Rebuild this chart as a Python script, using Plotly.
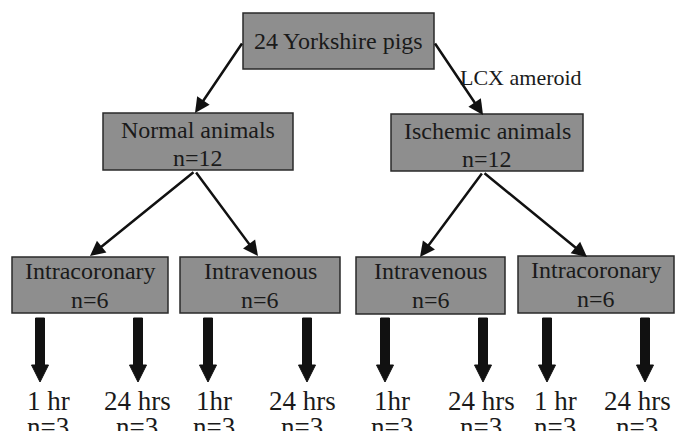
import plotly.graph_objects as go

# ---- content (data) ----
root_label = "24 Yorkshire pigs"
group_labels = ["Normal animals", "Ischemic animals"]
group_n = [12, 12]
route_labels = ["Intracoronary", "Intravenous", "Intravenous", "Intracoronary"]
route_n = [6, 6, 6, 6]
time_labels = ["1 hr", "24 hrs", "1hr", "24 hrs", "1hr", "24 hrs", "1 hr", "24 hrs"]
time_n = [3, 3, 3, 3, 3, 3, 3, 3]
edge_label = "LCX ameroid"

# ---- layout geometry (pixel-like coordinates) ----
W, H = 678, 431
root_box = (243, 434, 13, 69)
group_boxes = [(103, 293, 113, 170), (391, 583, 114, 171)]
route_boxes = [(12, 168, 257, 313), (180, 340, 257, 313),
               (356, 505, 257, 314), (518, 674, 256, 313)]
thick_x = [40, 138, 208, 307, 385, 483, 547, 645]
time_text_x = [48, 137, 214, 302, 392, 481, 555, 637]

FILL = "#8e8e8e"
EDGE = "#2a2a2a"
TXT = "#1a1a1a"
FONT = "Liberation Serif"

fig = go.Figure()
fig.add_trace(go.Scatter(x=[0, W], y=[0, H], mode="markers",
                         marker=dict(opacity=0), hoverinfo="skip", showlegend=False))

shapes = []
annotations = []

def box(b):
    x0, x1, y0, y1 = b
    shapes.append(dict(type="rect", xref="x", yref="y", x0=x0, x1=x1, y0=y0, y1=y1,
                       fillcolor=FILL, line=dict(color=EDGE, width=1.5), layer="above"))

def text(x, y, s, size):
    annotations.append(dict(x=x, y=y, xref="x", yref="y", text=s, showarrow=False,
                            font=dict(family=FONT, size=size, color=TXT),
                            xanchor="center", yanchor="middle"))

def thin_arrow(tail, tip):
    annotations.append(dict(x=tip[0], y=tip[1], ax=tail[0], ay=tail[1],
                            xref="x", yref="y", axref="x", ayref="y", text="",
                            showarrow=True, arrowhead=2, arrowsize=1.2, arrowwidth=2.5,
                            arrowcolor="#111111", standoff=0, startstandoff=0))

# boxes
box(root_box)
for b in group_boxes:
    box(b)
for b in route_boxes:
    box(b)

# box texts
text((root_box[0] + root_box[1]) / 2, 41, root_label, 24)
for b, lab, n in zip(group_boxes, group_labels, group_n):
    cx = (b[0] + b[1]) / 2
    text(cx, b[2] + 17, lab, 24)
    text(cx, b[2] + 45, "n=%d" % n, 24)
for b, lab, n in zip(route_boxes, route_labels, route_n):
    cx = (b[0] + b[1]) / 2
    text(cx, b[2] + 14, lab, 24)
    text(cx, b[2] + 43, "n=%d" % n, 24)

# thin arrows
thin_arrow((243, 42), (195, 113))
thin_arrow((434, 42), (483, 115))
thin_arrow((195, 171), (90, 256))
thin_arrow((195, 171), (258, 256))
thin_arrow((483, 172), (420, 257))
thin_arrow((483, 172), (587, 257))

text(521, 77, edge_label, 22)

# thick arrows
for cx in thick_x:
    y0, yh, yt = 318, 365, 382
    sw, hw = 4.5, 8.5
    path = (f"M {cx-sw},{y0} L {cx+sw},{y0} L {cx+sw},{yh} L {cx+hw},{yh} "
            f"L {cx},{yt} L {cx-hw},{yh} L {cx-sw},{yh} Z")
    shapes.append(dict(type="path", xref="x", yref="y", path=path,
                       fillcolor="#111111", line=dict(color="#111111", width=1)))

# bottom labels
for x, lab, n in zip(time_text_x, time_labels, time_n):
    text(x, 401, lab, 27)
    text(x, 427, "n=%d" % n, 27)

fig.update_layout(
    width=W, height=H, margin=dict(l=0, r=0, t=0, b=0),
    paper_bgcolor="white", plot_bgcolor="white",
    xaxis=dict(range=[0, W], visible=False, fixedrange=True),
    yaxis=dict(range=[H, 0], visible=False, fixedrange=True),
    shapes=shapes, annotations=annotations, showlegend=False,
)
fig.write_html("out.html", config={"displayModeBar": False},
               post_script="document.body.style.margin='0';document.body.style.overflow='hidden';")
